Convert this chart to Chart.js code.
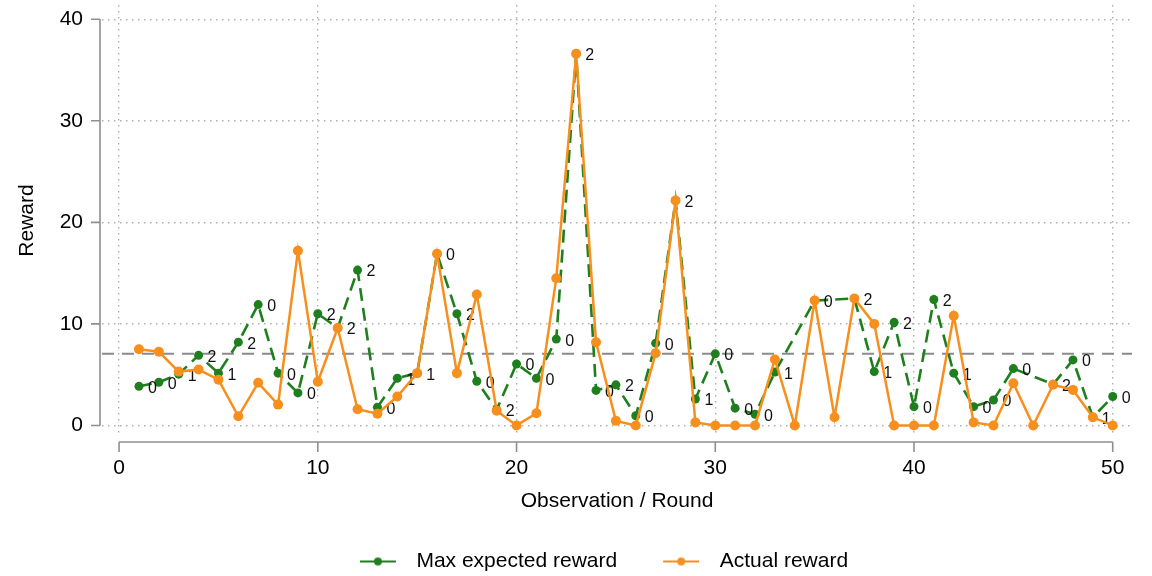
<!DOCTYPE html>
<html>
<head>
<meta charset="utf-8">
<script src="https://cdn.jsdelivr.net/npm/chart.js@4/dist/chart.umd.min.js"></script>
<style>
  html, body { margin: 0; padding: 0; background: #fff; }
  #wrap { width: 1152px; height: 576px; }
</style>
</head>
<body>
<div id="wrap"><canvas id="rewardChart" width="1152" height="576"></canvas></div>
<script>
// rounds 1..50
const rounds = [1, 2, 3, 4, 5, 6, 7, 8, 9, 10, 11, 12, 13, 14, 15, 16, 17, 18, 19, 20,
  21, 22, 23, 24, 25, 26, 27, 28, 29, 30, 31, 32, 33, 34, 35, 36, 37, 38, 39, 40,
  41, 42, 43, 44, 45, 46, 47, 48, 49, 50];

// max expected reward (green, dashed) - missing rounds are null
const maxExpected = [3.85, 4.25, 5.05, 6.9, 5.15, 8.2, 11.9, 5.15, 3.2, 11.0,
  9.6, 15.3, 1.8, 4.65, 5.15, 16.9, 11.0, 4.35, 1.55, 6.05,
  4.65, 8.5, 36.6, 3.45, 4.0, 0.95, 8.1, 22.15, 2.6, 7.05,
  1.7, 1.1, 5.25, null, 12.3, null, 12.5, 5.3, 10.15, 1.85,
  12.4, 5.15, 1.85, 2.5, 5.6, null, 4.05, 6.45, 0.8, 2.85];

// actual reward (orange)
const actual = [7.5, 7.25, 5.3, 5.5, 4.5, 0.9, 4.2, 2.05, 17.2, 4.3,
  9.6, 1.6, 1.15, 2.85, 5.15, 16.9, 5.15, 12.9, 1.45, 0,
  1.2, 14.5, 36.6, 8.2, 0.45, 0, 7.1, 22.15, 0.3, 0,
  0, 0, 6.5, 0, 12.3, 0.8, 12.5, 10.0, 0, 0,
  0, 10.8, 0.3, 0, 4.15, 0, 4.0, 3.5, 0.8, 0];

// chosen arm shown next to each green marker
const armLabels = ['0', '0', '1', '2', '1', '2', '0', '0', '0', '2',
  '2', '2', '0', '1', '1', '0', '2', '0', '2', '0',
  '0', '0', '2', '0', '2', '0', '0', '2', '1', '0',
  '0', '0', '1', null, '0', null, '2', '1', '2', '0',
  '2', '1', '0', '0', '0', null, '2', '0', '1', '0'];

const xTicks = [0, 10, 20, 30, 40, 50];
const yTicks = [0, 10, 20, 30, 40];
const refLine = 7.05;

const GREEN = '#1f7f1f';
const ORANGE = '#f78f1e';

Chart.defaults.font.family = "'Liberation Sans', Arial, sans-serif";
Chart.defaults.color = '#000';

// legend symbol: short line with a dot, drawn to the right of a blank lead-in
function legendIcon(color) {
  const c = document.createElement('canvas');
  c.width = 86;
  c.height = 12;
  const g = c.getContext('2d');
  g.strokeStyle = color;
  g.lineWidth = 2;
  g.beginPath();
  g.moveTo(40, 6);
  g.lineTo(76, 6);
  g.stroke();
  g.fillStyle = color;
  g.beginPath();
  g.arc(58, 6, 4, 0, Math.PI * 2);
  g.fill();
  return c;
}

// axis lines offset from the plot, and the dashed reference line
const stataAxes = {
  id: 'stataAxes',
  beforeDatasetsDraw(chart) {
    const { ctx, chartArea: a, scales: { x, y } } = chart;
    ctx.save();
    ctx.strokeStyle = '#8a8a8a';
    ctx.lineWidth = 2;
    ctx.setLineDash([12, 8]);
    const ry = y.getPixelForValue(refLine);
    ctx.beginPath();
    ctx.moveTo(a.left, ry);
    ctx.lineTo(a.right, ry);
    ctx.stroke();

    ctx.setLineDash([]);
    ctx.strokeStyle = '#8f8f8f';
    ctx.lineWidth = 1.6;
    const ax = a.left - 2;
    const ay = a.bottom + 6;
    ctx.beginPath();
    ctx.moveTo(ax, y.getPixelForValue(yTicks[0]));
    ctx.lineTo(ax, y.getPixelForValue(yTicks[yTicks.length - 1]));
    yTicks.forEach(v => {
      const py = y.getPixelForValue(v);
      ctx.moveTo(ax - 9, py);
      ctx.lineTo(ax, py);
    });
    ctx.moveTo(x.getPixelForValue(xTicks[0]), ay);
    ctx.lineTo(x.getPixelForValue(xTicks[xTicks.length - 1]), ay);
    xTicks.forEach(v => {
      const px = x.getPixelForValue(v);
      ctx.moveTo(px, ay);
      ctx.lineTo(px, ay + 10);
    });
    ctx.stroke();
    ctx.restore();
  },
  // marker labels go with the green series, so orange draws over them
  afterDatasetDraw(chart, args) {
    if (args.index !== 0) return;
    const ctx = chart.ctx;
    ctx.save();
    ctx.fillStyle = '#111';
    ctx.font = "16px 'Liberation Sans', Arial, sans-serif";
    ctx.textAlign = 'left';
    ctx.textBaseline = 'middle';
    args.meta.data.forEach((pt, i) => {
      if (armLabels[i] == null || maxExpected[i] == null) return;
      ctx.fillText(armLabels[i], pt.x + 9, pt.y + 2);
    });
    ctx.restore();
  }
};

const gridOpts = { color: '#b0b0b0', lineWidth: 1.4, drawTicks: false };
const borderOpts = { display: false, dash: [1.5, 4.5] };

new Chart(document.getElementById('rewardChart'), {
  type: 'line',
  data: {
    datasets: [
      {
        label: 'Max expected reward',
        data: rounds.map((r, i) => ({ x: r, y: maxExpected[i] })),
        borderColor: GREEN,
        backgroundColor: GREEN,
        borderWidth: 2.6,
        borderDash: [13, 7],
        pointRadius: 4.5,
        pointBorderWidth: 0,
        spanGaps: true,
        tension: 0,
        order: 2
      },
      {
        label: 'Actual reward',
        data: rounds.map((r, i) => ({ x: r, y: actual[i] })),
        borderColor: ORANGE,
        backgroundColor: ORANGE,
        borderWidth: 2.5,
        pointRadius: 5,
        pointBorderWidth: 0,
        tension: 0,
        order: 1
      }
    ]
  },
  options: {
    responsive: false,
    animation: false,
    layout: { padding: { left: 36, right: 20, top: 4, bottom: -6 } },
    scales: {
      x: {
        type: 'linear',
        min: -0.86,
        max: 50.97,
        afterFit: s => { s.height = 109; s.paddingLeft = 0; s.paddingRight = 0; },
        border: borderOpts,
        grid: gridOpts,
        ticks: { stepSize: 10, includeBounds: false, padding: 20, font: { size: 21 } },
        title: { display: true, text: 'Observation / Round', font: { size: 21 }, padding: { top: 0, bottom: 31 } }
      },
      y: {
        min: -1.04,
        max: 41.4,
        afterFit: s => { s.width = 66; s.paddingTop = 0; s.paddingBottom = 0; },
        border: borderOpts,
        grid: gridOpts,
        ticks: { stepSize: 10, includeBounds: false, padding: 19, font: { size: 21 } },
        title: { display: true, text: 'Reward', font: { size: 21 }, padding: { top: -21, bottom: 0 } }
      }
    },
    plugins: {
      tooltip: { enabled: false },
      legend: {
        position: 'bottom',
        labels: {
          usePointStyle: true,
          pointStyleWidth: 86,
          padding: 6,
          font: { size: 21 },
          color: '#000',
          sort: (a, b) => a.datasetIndex - b.datasetIndex,
          generateLabels: chart => chart.data.datasets.map((ds, i) => ({
            text: ds.label,
            pointStyle: legendIcon(ds.borderColor),
            datasetIndex: i,
            hidden: false,
            lineWidth: 0,
            strokeStyle: 'rgba(0,0,0,0)',
            fillStyle: 'rgba(0,0,0,0)',
            fontColor: '#000'
          }))
        }
      }
    }
  },
  plugins: [stataAxes]
});
</script>
</body>
</html>
